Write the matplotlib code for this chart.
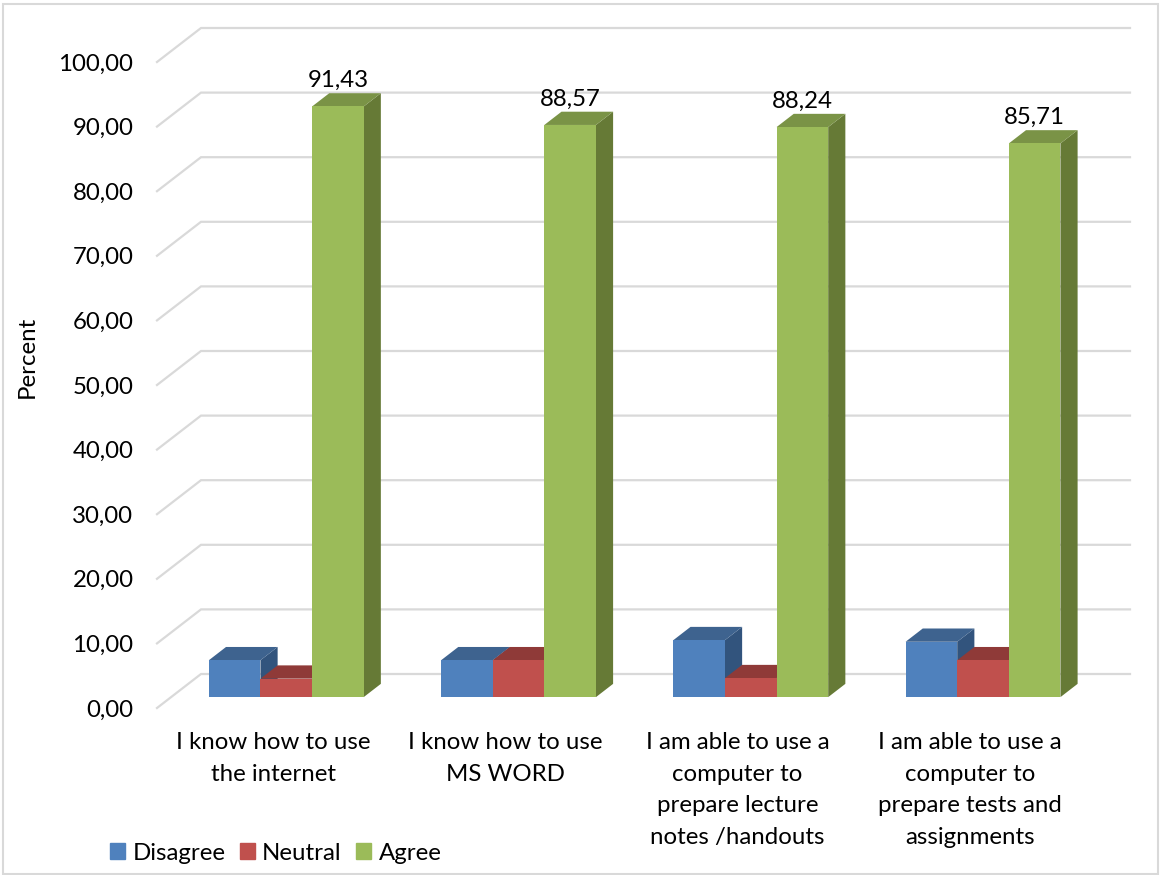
import matplotlib.pyplot as plt
from matplotlib.patches import Patch, Rectangle

plt.rcParams['font.family'] = ['Lato', 'DejaVu Sans']

categories = ["I know how to use\nthe internet",
              "I know how to use\nMS WORD",
              "I am able to use a\ncomputer to\nprepare lecture\nnotes /handouts",
              "I am able to use a\ncomputer to\nprepare tests and\nassignments"]
series_names = ["Disagree", "Neutral", "Agree"]
disagree = [5.71, 5.71, 8.82, 8.57]
neutral = [2.86, 5.71, 2.94, 5.71]
agree = [91.43, 88.57, 88.24, 85.71]
y_ticks = [0, 10, 20, 30, 40, 50, 60, 70, 80, 90, 100]

front_colors = ["#4F81BD", "#C0504D", "#9BBB59"]
top_colors = ["#3E638F", "#8F3A38", "#7A9346"]
side_colors = ["#32547D", "#8F3A38", "#667A36"]
grid_color = "#D9D9D9"
FS = 17.3

W, H = 1160, 875
fig = plt.figure(figsize=(W / 100, H / 100), dpi=100)
# front plane of the chart: 157..1086 px wide, 708..62 px tall
ax = fig.add_axes([157 / W, 1 - 708 / H, 929 / W, 646 / H])
ax.set_xlim(-0.5, 3.5)
ax.set_ylim(0, 100)

# oblique projection for the fake 3d look
DEPTH_X = 44 / 232.25
DEPTH_Y = 34 / 6.46
BAR_FRONT = 0.32
BAR_BACK = 0.71
BAR_W = 1 / 4.5
BAR_SHIFT = -0.004


def proj(x, y, d):
    return x + d * DEPTH_X, y + d * DEPTH_Y


def poly(points, color, z):
    xs = [p[0] for p in points]
    ys = [p[1] for p in points]
    ax.fill(xs, ys, color=color, lw=0, zorder=z, clip_on=False)


# back wall gridlines and the slanted bits on the left
for t in y_ticks:
    x0, y0 = proj(-0.5, t, 0)
    x1, y1 = proj(-0.5, t, 1)
    x2, y2 = proj(3.5, t, 1)
    ax.plot([x0, x1, x2], [y0, y1, y2], color=grid_color, lw=1.6, zorder=1,
            clip_on=False, solid_joinstyle="miter")

z = 2
for i in range(len(categories)):
    vals = [disagree[i], neutral[i], agree[i]]
    for j, v in enumerate(vals):
        left = i + (j - 1.5) * BAR_W + BAR_SHIFT
        right = left + BAR_W
        fl0 = proj(left, 0, BAR_FRONT)
        fr0 = proj(right, 0, BAR_FRONT)
        fr1 = proj(right, v, BAR_FRONT)
        fl1 = proj(left, v, BAR_FRONT)
        br0 = proj(right, 0, BAR_BACK)
        br1 = proj(right, v, BAR_BACK)
        bl1 = proj(left, v, BAR_BACK)
        poly([fr0, br0, br1, fr1], side_colors[j], z)
        poly([fl1, fr1, br1, bl1], top_colors[j], z)
        poly([fl0, fr0, fr1, fl1], front_colors[j], z + 0.5)
        z += 1
    # value label above the green bar
    lx, ly = proj(i + BAR_W + BAR_SHIFT, vals[2], BAR_FRONT)
    ax.annotate(f"{vals[2]:.2f}".replace(".", ","), (lx, ly), xytext=(0, 18.5),
                textcoords="offset points", ha="center", va="center",
                fontsize=FS, color="#000000", zorder=50, annotation_clip=False)

for s in ax.spines.values():
    s.set_visible(False)
ax.patch.set_visible(False)

ax.set_yticks(y_ticks)
ax.set_yticklabels([f"{t:.2f}".replace(".", ",") for t in y_ticks], fontsize=FS)
ax.set_xticks(range(len(categories)))
ax.set_xticklabels(categories, fontsize=FS, linespacing=1.62, va="top")
ax.tick_params(axis="y", length=0, pad=17)
ax.tick_params(axis="x", length=0, pad=17.5)
ax.set_ylabel("Percent", fontsize=FS)
ax.yaxis.set_label_coords(-119 / 929, 0.543)

handles = [Patch(color=c) for c in front_colors]
ax.legend(handles, series_names, ncol=3, frameon=False, fontsize=FS,
          loc="center left", bbox_to_anchor=(110 / W, 1 - 853 / H),
          bbox_transform=fig.transFigure, handlelength=0.63, handleheight=0.63,
          handletextpad=0.3, columnspacing=0.6, borderpad=0, borderaxespad=0)

# outer chart frame
fig.add_artist(Rectangle((2.5 / W, 1 - 873.5 / H), 1155 / W, 870 / H,
                         transform=fig.transFigure, fill=False,
                         edgecolor=grid_color, lw=1.5))

fig.savefig("out.png", dpi=100)
